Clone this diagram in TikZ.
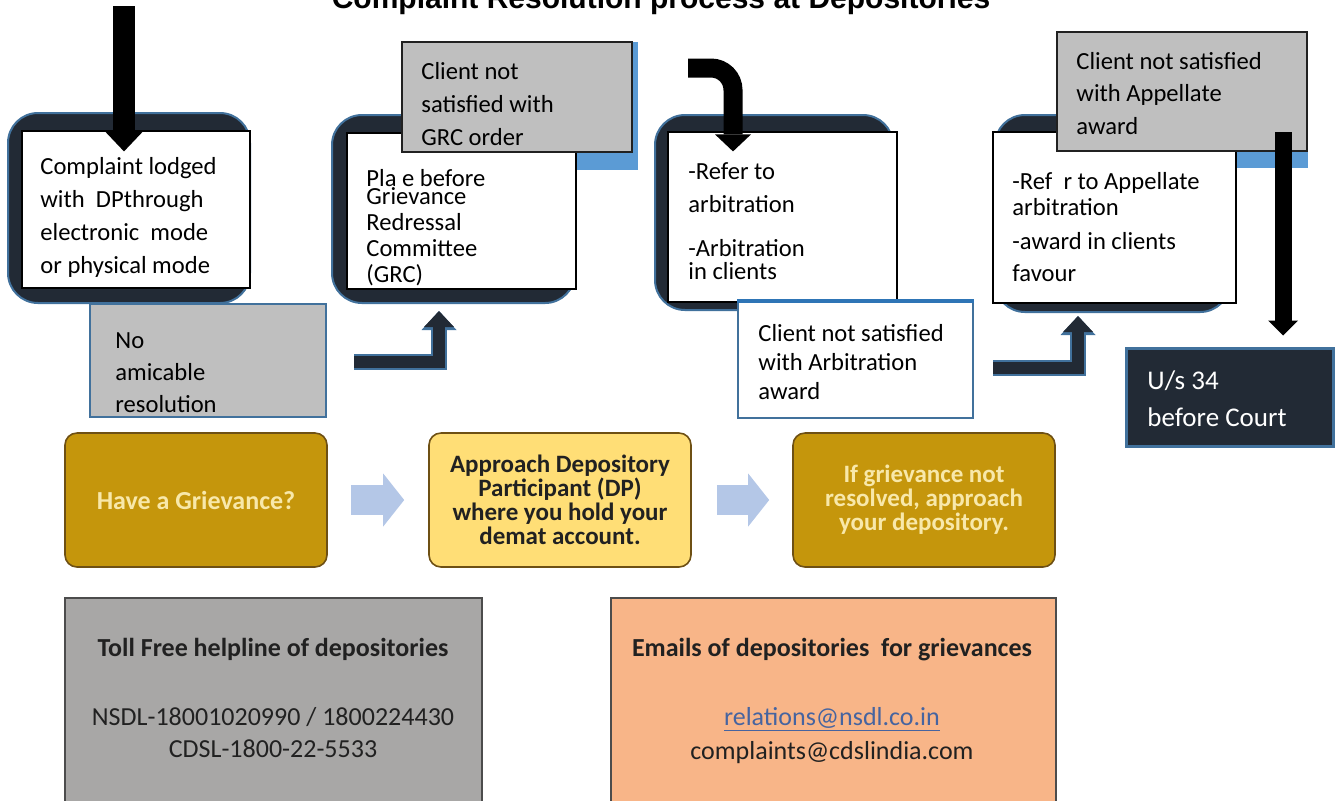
\documentclass[tikz,border=0pt]{standalone}
\usepackage{fontspec}
\setmainfont{Carlito}
\newfontfamily\headfont{Liberation Sans}
\usetikzlibrary{arrows.meta}
\usepackage{xcolor}
\definecolor{framenavy}{RGB}{34, 42, 53}
\definecolor{frameedge}{RGB}{65, 113, 156}
\definecolor{shadeblue}{RGB}{91, 155, 213}
\definecolor{notegray}{RGB}{191, 191, 191}
\definecolor{topblue}{RGB}{46, 117, 182}
\definecolor{goldfill}{RGB}{197, 150, 12}
\definecolor{goldedge}{RGB}{110, 80, 20}
\definecolor{goldtext}{RGB}{248, 232, 170}
\definecolor{paleyellow}{RGB}{255, 222, 118}
\definecolor{paleblue}{RGB}{180, 199, 231}
\definecolor{helpgray}{RGB}{168, 167, 166}
\definecolor{mailorange}{RGB}{248, 181, 136}
\definecolor{linkblue}{RGB}{70, 100, 160}
\definecolor{textdark}{RGB}{33, 33, 33}

\begin{document}
\begin{tikzpicture}[
    x=0.5pt, y=-0.5pt,
    frame/.style={rectangle, fill=framenavy, draw=frameedge, line width=1pt, rounded corners=15pt},
    card/.style={rectangle, fill=white, draw=black, line width=0.6pt},
    note/.style={rectangle, fill=notegray, draw=textdark, line width=0.9pt},
    shade/.style={rectangle, fill=shadeblue},
    txt/.style={anchor=base west, align=left, inner sep=0pt, font=\fontsize{12.3}{16.5}\selectfont},
    elbow/.style={line width=6pt, draw=framenavy, line join=miter,
        -{Triangle[length=8pt, width=15pt, line width=0pt]},
        preaction={draw=frameedge, line width=8pt, -{Triangle[length=9.5pt, width=17.5pt, line width=0pt]}}},
    bigarrow/.style={draw=black, line join=miter},
    goldbox/.style={rectangle, rounded corners=6pt, draw=goldedge, line width=0.8pt, minimum width=131pt, minimum height=67pt, align=center, font=\bfseries\fontsize{12.5}{12}\selectfont},
    pale/.style={line width=15pt, draw=paleblue, -{Triangle[length=10.5pt, width=26.5pt, line width=0pt]}},
    infobox/.style={rectangle, line width=0.6pt, minimum height=107pt},
]
\useasboundingbox (0,0) rectangle (1336,800);

% Title
\node[font=\headfont\bfseries\fontsize{15}{18}\selectfont, anchor=base] (title) at (661,8) {Complaint Resolution process at Depositories};

% Step 1: complaint with DP
\node[frame, minimum width=121pt, minimum height=95pt] (frame1) at (129,208) {};
\node[card, minimum width=114pt, minimum height=78.5pt] (white1) at (136,209.5) {};
\node[txt] (lodged-text) at (40,273) {Complaint lodged\\with~~DPthrough\\electronic~~mode\\or physical mode};

\node[rectangle, fill=notegray, draw=frameedge, line width=0.6pt, minimum width=118pt, minimum height=56.5pt] (noamic) at (208,360.5) {};
\node[txt, font=\fontsize{12.3}{16}\selectfont] (noamic-text) at (115,412) {No\\amicable\\resolution};

% Step 2: GRC
\node[frame, minimum width=121.5pt, minimum height=94pt] (frame2) at (453.5,209) {};
\node[shade, minimum width=113pt, minimum height=64pt] (blue2) at (525,106) {};
\node[card, minimum width=114.5pt, minimum height=78pt] (white2) at (461.5,211) {};
\node[note, minimum width=115pt, minimum height=55pt] (gray2) at (517,97) {};
\node[txt] (gray2-text) at (421,145) {Client not\\satisfied with\\GRC order};
\node[txt, font=\fontsize{12.3}{13}\selectfont] (grc-text) at (366,282) {Pla e before\\[-4pt]Grievance\\Redressal\\Committee\\(GRC)};

% Step 3: arbitration
\node[frame, minimum width=119pt, minimum height=97.5pt] (frame3) at (774,212.5) {};
\node[card, minimum width=114.5pt, minimum height=85pt] (white3) at (782.5,217) {};
\node[txt] (arb-text) at (688,279) {-Refer to\\arbitration\\[5.5pt]-Arbitration\\[-5pt]in clients};

\node[rectangle, fill=white, draw=frameedge, line width=0.8pt, minimum width=117.5pt, minimum height=58pt] (award3) at (855.5,360) {};
\draw[topblue, line width=2pt] (award3.north west) -- (award3.north east);
\node[txt, font=\fontsize{12.3}{14.5}\selectfont] (award3-text) at (758,399) {Client not satisfied\\with Arbitration\\award};

% Step 4: appellate arbitration
\node[frame, minimum width=117.5pt, minimum height=98.5pt] (frame4) at (1112.5,213.5) {};
\node[shade, minimum width=121.5pt, minimum height=68pt] (blue4) at (1186.5,100) {};
\node[card, minimum width=121.5pt, minimum height=85.5pt] (white4) at (1114.5,217.5) {};
\node[note, minimum width=125pt, minimum height=59.5pt] (gray4) at (1182,91.5) {};
\node[txt, font=\fontsize{12.3}{16.25}\selectfont] (gray4-text) at (1076,134) {Client not satisfied\\with Appellate\\award};
\node[txt, font=\fontsize{12.3}{16}\selectfont] (app-text) at (1012,281) {-Ref~~r to Appellate\\[-3pt]arbitration\\[1pt]-award in clients\\favour};

% Court
\node[rectangle, fill=framenavy, draw=frameedge, line width=1.5pt, minimum width=103.5pt, minimum height=49pt] (court) at (1229.5,397) {};
\node[txt, text=white, font=\fontsize{13.5}{18.5}\selectfont] (court-text) at (1147,426) {U/s 34\\before Court};

% Arrows
\coordinate (a-top) at (124,6);
\coordinate (b-start) at (688,68);
\coordinate (c-top) at (1283,132);
\coordinate (e1-start) at (354,362);
\coordinate (e2-start) at (993,368);

\draw[bigarrow, line width=11pt, shorten >=-10.5pt, -{Triangle[length=10pt, width=19pt, line width=0pt]}] (a-top) -- (a-top |- white1.north);
\draw[bigarrow, line width=9.5pt, rounded corners=11pt, shorten >=-10pt, -{Triangle[length=8.5pt, width=18pt, line width=0pt]}] (b-start) -| ([xshift=-24.75pt]white3.north);
\draw[bigarrow, line width=8.5pt, shorten >=5.5pt, -{Triangle[length=7.5pt, width=15pt, line width=0pt]}] (c-top) -- (c-top |- court.north);
\draw[elbow, shorten >=3.5pt] (e1-start) -| ([xshift=-7.25pt]frame2.south);
\draw[elbow, shorten >=1.5pt] (e2-start) -| ([xshift=-17.25pt]frame4.south);

% Bottom row
\node[goldbox, fill=goldfill, text=goldtext, font=\bfseries\fontsize{13}{12}\selectfont] (grievance) at (196,500) {Have a Grievance?};
\node[goldbox, fill=paleyellow, text=textdark] (approach) at (560,500) {Approach Depository\\Participant (DP)\\where you hold your\\demat account.};
\node[goldbox, fill=goldfill, text=goldtext] (depository) at (924,500) {If grievance not\\resolved, approach\\your depository.};
\draw[pale, shorten <=11.5pt, shorten >=12pt] (grievance) -- (approach);
\draw[pale, shorten <=12.5pt, shorten >=11.5pt] (approach) -- (depository);

% Helplines and emails
\node[infobox, fill=helpgray, draw=gray!60!black, minimum width=208.5pt] (helpline) at (273.5,705) {};
\node[anchor=base, text=textdark, font=\bfseries\fontsize{13}{15}\selectfont] (help-title) at (273,656) {Toll Free helpline of depositories};
\node[anchor=base, align=center, text=textdark, font=\fontsize{13}{16}\selectfont] (help-nums) at (273,757) {NSDL-18001020990 / 1800224430\\CDSL-1800-22-5533};

\node[infobox, fill=mailorange, draw=gray!60!black, minimum width=222.5pt] (emails) at (833.5,705) {};
\node[anchor=base, text=textdark, font=\bfseries\fontsize{13}{15}\selectfont] (mail-title) at (832,656) {Emails of depositories~~for grievances};
\node[anchor=base, align=center, text=textdark, font=\fontsize{13}{17}\selectfont] (mail-list) at (832,759) {\textcolor{linkblue}{\underline{relations@nsdl.co.in}}\\complaints@cdslindia.com};

\end{tikzpicture}
\end{document}
